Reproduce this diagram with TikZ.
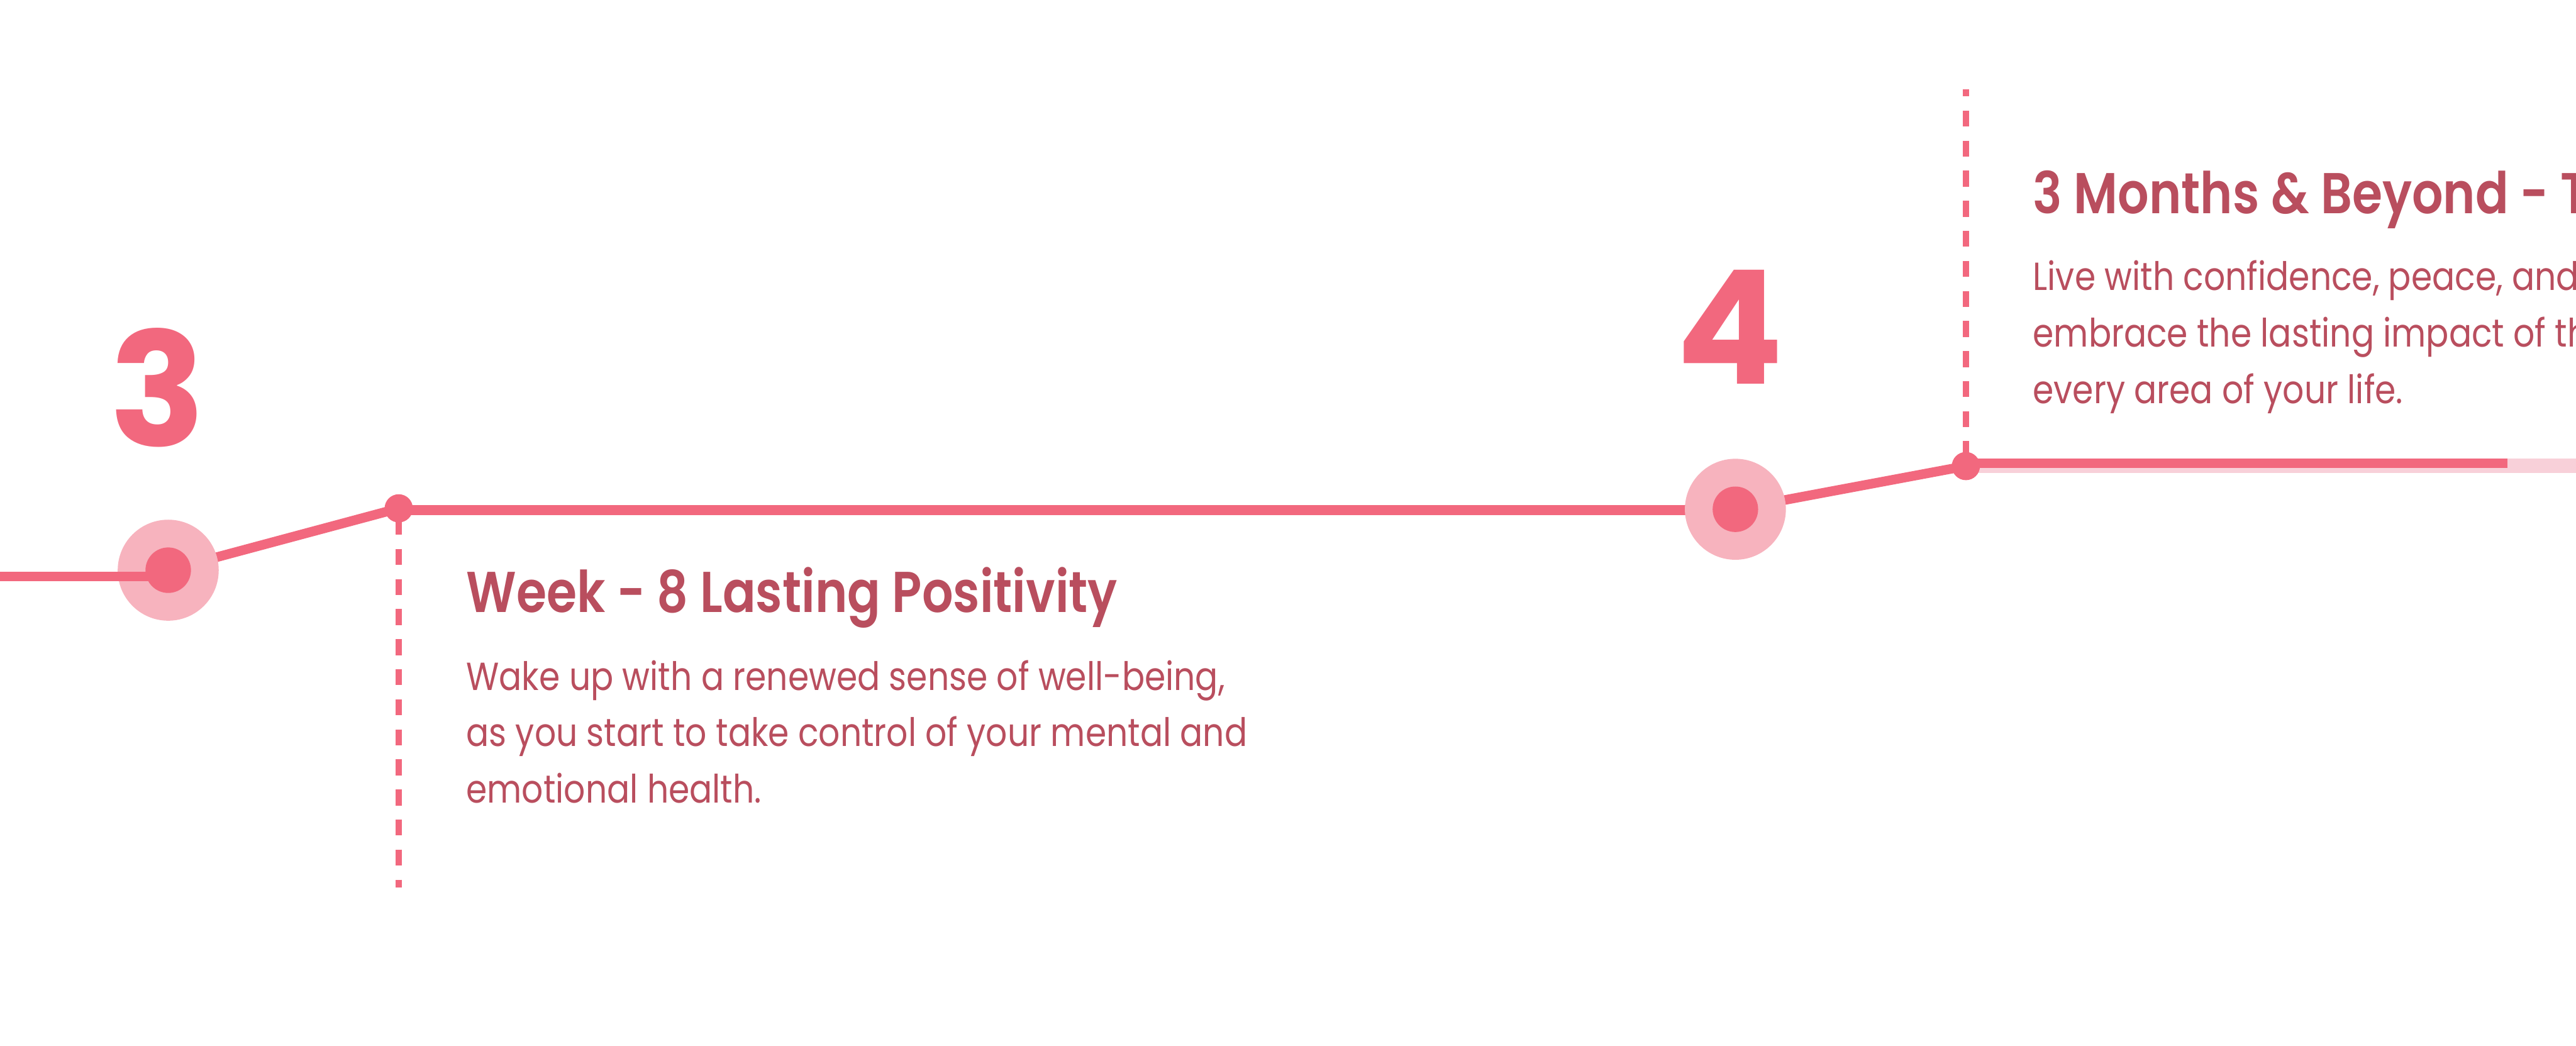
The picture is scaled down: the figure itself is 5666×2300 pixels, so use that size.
\documentclass[tikz,border=0pt]{standalone}
\usepackage{fontspec}
\setmainfont{Poppins}[FakeStretch=0.86]
\newfontfamily\titlefont{Poppins SemiBold}[FakeStretch=0.85]
\newfontfamily\numfont{Poppins Bold}
\definecolor{lineC}{HTML}{F2687E}
\definecolor{haloC}{HTML}{F7B3BE}
\definecolor{trackC}{HTML}{F8D0D9}
\definecolor{textC}{HTML}{B94E5E}
\begin{document}
\begin{tikzpicture}[x=0.01cm,y=-0.01cm,
  halo/.style={circle,fill=haloC,inner sep=0pt,minimum size=2.22cm},
  core/.style={circle,fill=lineC,inner sep=0pt,minimum size=1cm},
  joint/.style={circle,fill=lineC,inner sep=0pt,minimum size=0.62cm},
  track/.style={line width=6pt,draw=lineC},
  guide/.style={line width=3.7pt,draw=lineC,dash pattern=on 10pt off 8.8pt},
  numstyle/.style={anchor=base,inner sep=0pt,text=lineC,font=\numfont\fontsize{99}{100}\selectfont},
  headstyle/.style={anchor=base west,inner sep=0pt,text=textC,font=\titlefont\fontsize{36}{40}\selectfont},
  bodystyle/.style={anchor=base west,inner sep=0pt,text=textC,font=\fontsize{24.5}{30}\selectfont}]
\path[use as bounding box] (0,0) rectangle (5666,2300);
\clip (0,0) rectangle (5666,2300);
% positions
\coordinate (start) at (0,1268);
\coordinate (c3p) at (370,1254);
\coordinate (j1p) at (877,1118);
\coordinate (c4p) at (3817,1120);
\coordinate (j2p) at (4324,1025);
\coordinate (endp) at (5515,1018.5);
\coordinate (edge) at (5666,1024);
\coordinate (d1end) at (877,1952);
\coordinate (d2top) at (4324,196);
% track background
\draw[line width=9.1pt,draw=trackC] (j2p |- edge) -- (edge);
% lines under halos
\draw[track] (c3p) -- (j1p);
\draw[track] (j1p |- 0,1122) -- (c4p |- 0,1122);
\draw[track] (c4p) -- (j2p);
\draw[track] (j2p |- endp) -- (endp);
% dashed guides
\draw[guide,dash phase=12.2pt] (j1p) -- (d1end);
\draw[guide,dash phase=5.4pt] (d2top) -- (j2p);
% halos
\node[halo] (c3) at (c3p) {};
\node[halo] (c4) at (c4p) {};
\draw[track] (start) -- (start -| c3.center);
\node[core] (c3i) at (c3p) {};
\node[core] (c4i) at (c4p) {};
\node[joint] (j1) at (j1p) {};
\node[joint] (j2) at (j2p) {};
% numbers
\node[numstyle] (n3) at (347,982) {3};
\node[numstyle] (n4) at (3805,845) {4};
% text block 1
\node[headstyle] (h1) at (1025,1346) {Week - 8 Lasting Positivity};
\node[bodystyle] (b1a) at (1025,1518) {Wake up with a renewed sense of well-being,};
\node[bodystyle] (b1b) at (1025,1641) {as you start to take control of your mental and};
\node[bodystyle] (b1c) at (1025,1766) {emotional health.};
% text block 2
\node[headstyle] (h2) at (4471,469) {3 Months \& Beyond - T};
\node[bodystyle] (b2a) at (4471,638) {Live with confidence, peace, and};
\node[bodystyle] (b2b) at (4471,763) {embrace the lasting impact of th};
\node[bodystyle] (b2c) at (4471,888) {every area of your life.};
\end{tikzpicture}
\end{document}
